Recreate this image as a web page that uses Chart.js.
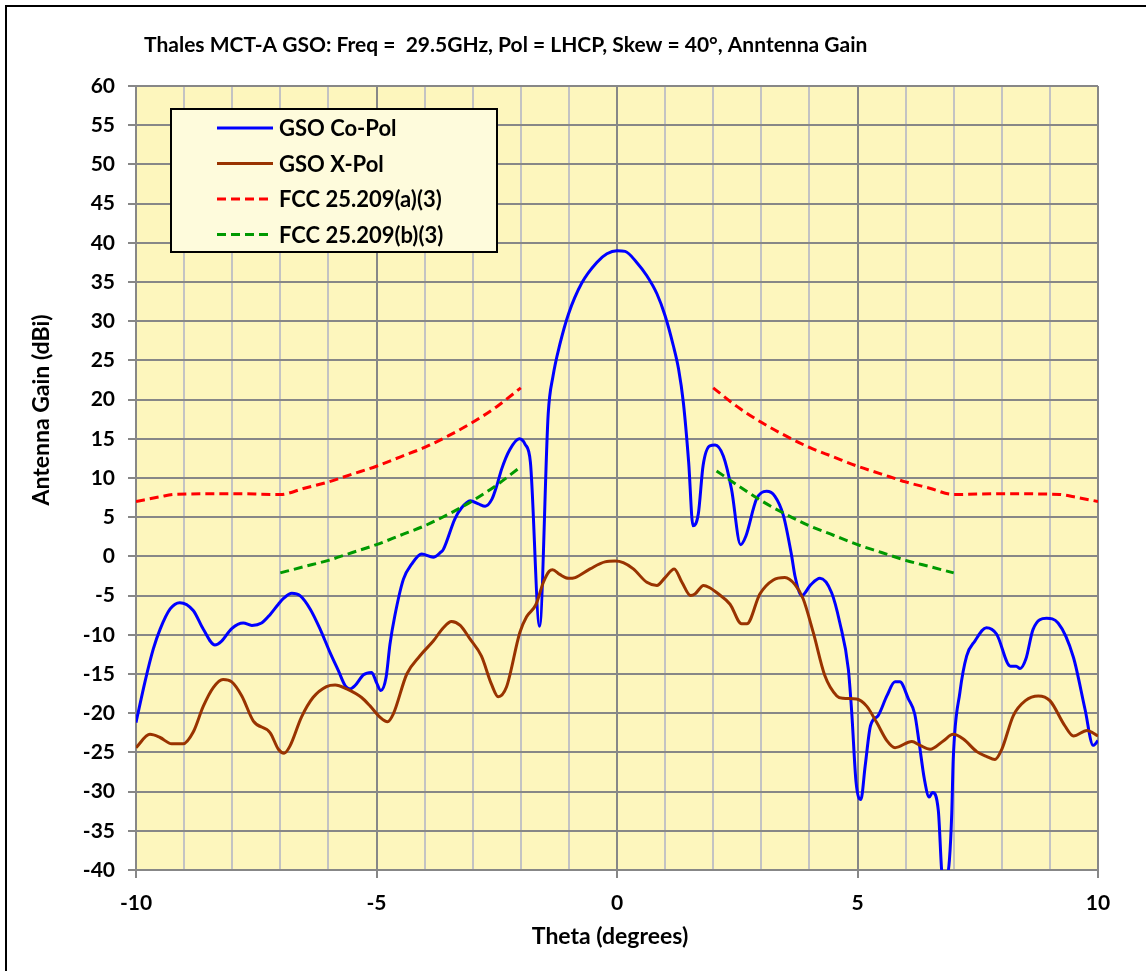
<!DOCTYPE html>
<html>
<head>
<meta charset="utf-8">
<script src="https://cdn.jsdelivr.net/npm/chart.js@4.4.0/dist/chart.umd.min.js"></script>
<style>
  body { margin: 0; background: #fff; }
  #wrap { width: 1146px; height: 971px; position: relative; }
</style>
</head>
<body>
<div id="wrap"><canvas id="myChart" width="1146" height="971"></canvas></div>
<script>
// values
const coPolTheta = [-10.00, -9.81, -9.64, -9.50, -9.29, -9.09, -8.81, -8.60, -8.36, -8.22, -8.01, -7.77, -7.59, -7.39, -7.21, -7.04, -6.94, -6.76, -6.59, -6.38,
  -6.17, -5.97, -5.79, -5.65, -5.55, -5.45, -5.27, -5.10, -5.00, -4.91, -4.80, -4.72, -4.62, -4.44, -4.27, -4.06, -3.82, -3.67, -3.61, -3.37,
  -3.23, -3.05, -2.88, -2.74, -2.60, -2.50, -2.40, -2.23, -2.03, -1.91, -1.80, -1.61, -1.43, -1.33, -1.19, -1.01, -0.73, -0.42, -0.21, 0.00,
  0.17, 0.41, 0.62, 0.83, 1.00, 1.17, 1.28, 1.38, 1.49, 1.58, 1.69, 1.79, 1.93, 2.04, 2.21, 2.38, 2.57, 2.68, 2.90, 3.11,
  3.28, 3.46, 3.63, 3.70, 3.84, 4.03, 4.22, 4.46, 4.63, 4.81, 4.88, 4.97, 5.07, 5.16, 5.27, 5.43, 5.61, 5.78, 5.88, 6.06,
  6.19, 6.28, 6.39, 6.49, 6.56, 6.68, 6.77, 6.85, 6.91, 6.96, 6.99, 7.13, 7.27, 7.44, 7.68, 7.89, 8.18, 8.30, 8.38, 8.50,
  8.65, 8.93, 9.17, 9.49, 9.73, 9.90, 10.00];
const coPolGain = [-21.2, -15.9, -11.8, -9.3, -6.7, -5.9, -6.9, -9.3, -11.3, -10.8, -9.2, -8.5, -8.8, -8.5, -7.4, -6.1, -5.4, -4.7, -5.0, -6.7,
  -9.3, -12.2, -14.6, -16.5, -16.9, -16.5, -15.1, -14.8, -16.1, -17.1, -15.4, -11.2, -7.6, -2.9, -1.0, 0.3, -0.1, 0.5, 0.9, 4.8,
  6.2, 7.1, 6.7, 6.4, 7.3, 9.0, 11.1, 13.6, 15.0, 14.3, 12.0, -8.9, 18.2, 23.0, 27.0, 30.9, 34.9, 37.5, 38.6, 39.0,
  38.9, 37.5, 35.8, 33.5, 30.7, 26.9, 23.9, 19.6, 12.0, 3.9, 5.4, 11.6, 14.1, 14.2, 12.8, 8.6, 1.5, 2.6, 7.3, 8.3,
  7.7, 5.2, 0.1, -2.5, -5.0, -3.6, -2.8, -4.6, -8.4, -14.4, -19.9, -28.8, -31.0, -26.7, -21.6, -20.3, -17.8, -16.0, -16.0, -18.2,
  -20.1, -23.7, -28.4, -30.7, -30.1, -32.4, -41.0, -41.0, -38.8, -32.7, -25.9, -17.3, -12.7, -10.8, -9.1, -9.9, -14.0, -14.0, -14.3, -13.1,
  -9.3, -7.9, -8.5, -12.9, -19.5, -24.1, -23.5];

const xPolTheta = [-10.00, -9.71, -9.50, -9.26, -9.02, -8.81, -8.60, -8.39, -8.19, -8.01, -7.80, -7.56, -7.21, -7.04, -6.92, -6.80, -6.56, -6.32, -6.04, -5.86,
  -5.62, -5.31, -5.13, -4.93, -4.77, -4.65, -4.37, -4.10, -3.82, -3.61, -3.44, -3.26, -3.06, -2.82, -2.61, -2.47, -2.30, -2.02, -1.88, -1.69,
  -1.53, -1.41, -1.34, -1.19, -1.01, -0.87, -0.56, -0.25, -0.04, 0.13, 0.34, 0.62, 0.83, 1.00, 1.19, 1.35, 1.53, 1.62, 1.80, 1.93,
  2.07, 2.35, 2.59, 2.70, 2.97, 3.25, 3.49, 3.70, 3.87, 4.08, 4.32, 4.57, 4.70, 4.98, 5.19, 5.40, 5.61, 5.78, 6.13, 6.30,
  6.51, 6.79, 6.99, 7.20, 7.48, 7.68, 7.86, 8.00, 8.24, 8.49, 8.76, 9.00, 9.31, 9.49, 9.77, 10.00];
const xPolGain = [-24.4, -22.7, -23.1, -23.9, -23.9, -22.4, -19.1, -16.7, -15.7, -16.0, -17.8, -21.0, -22.5, -24.6, -25.1, -24.2, -20.5, -18.0, -16.6, -16.4,
  -16.9, -18.0, -19.1, -20.5, -21.1, -20.1, -15.0, -12.7, -10.8, -9.1, -8.3, -8.8, -10.5, -12.7, -16.3, -17.9, -16.7, -9.7, -7.7, -6.2,
  -3.3, -1.9, -1.7, -2.3, -2.8, -2.7, -1.6, -0.7, -0.6, -0.8, -1.6, -3.3, -3.7, -2.7, -1.6, -3.3, -5.0, -4.8, -3.7, -4.0,
  -4.6, -6.1, -8.6, -8.6, -4.8, -3.0, -2.7, -3.6, -5.4, -9.7, -15.2, -17.8, -18.1, -18.2, -19.1, -21.2, -23.5, -24.4, -23.6, -24.1,
  -24.6, -23.5, -22.7, -23.3, -24.9, -25.5, -25.9, -24.6, -20.3, -18.4, -17.8, -18.4, -21.6, -22.9, -22.2, -22.9];

// mask lines, gap between -2 and 2
const fccATheta = [-10, -9.5, -9.2, -8, -7, -6.5, -6, -5.5, -5, -4.5, -4, -3.5, -3, -2.5, -2,
  0, 2, 2.5, 3, 3.5, 4, 4.5, 5, 5.5, 6, 6.5, 7, 8, 9.2, 9.5, 10];
const fccAGain = [7.0, 7.6, 7.9, 8.0, 7.9, 8.7, 9.5, 10.5, 11.5, 12.7, 13.9, 15.4, 17.1, 19.1, 21.5,
  null, 21.5, 19.1, 17.1, 15.4, 13.9, 12.7, 11.5, 10.5, 9.5, 8.7, 7.9, 8.0, 7.9, 7.6, 7.0];
const fccBTheta = [-7, -6.5, -6, -5.5, -5, -4.5, -4, -3.5, -3, -2.5, -2.05,
  0, 2.07, 2.5, 3, 3.5, 4, 4.5, 5, 5.5, 6, 6.5, 7];
const fccBGain = [-2.1, -1.3, -0.5, 0.5, 1.5, 2.7, 3.9, 5.4, 7.1, 9.1, 11.2,
  null, 10.9, 9.1, 7.1, 5.4, 3.9, 2.7, 1.5, 0.5, -0.5, -1.3, -2.1];

const xTicks = [-10, -5, 0, 5, 10];

const toPoints = (xs, ys) => xs.map((x, i) => ({ x: x, y: ys[i] }));

const FONT = "Lato, 'Open Sans', sans-serif";
const gridDark = '#878787';
const gridLight = '#c3c3c3';

// background, frame, titles and the boxed legend
const decor = {
  id: 'decor',
  beforeDraw(chart) {
    const { ctx, chartArea } = chart;
    ctx.save();
    ctx.fillStyle = '#fdf6bd';
    ctx.fillRect(chartArea.left, chartArea.top, chartArea.right - chartArea.left, chartArea.bottom - chartArea.top);
    ctx.restore();
  },
  afterDraw(chart) {
    const ctx = chart.ctx;
    ctx.save();
    // outer frame
    ctx.fillStyle = '#000';
    ctx.fillRect(5, 5, 2, 966);
    ctx.fillRect(5, 5, 1141, 2);

    ctx.fillStyle = '#000';
    ctx.font = 'bold 21px ' + FONT;
    ctx.textBaseline = 'middle';
    ctx.textAlign = 'left';
    ctx.fillText('Thales MCT-A GSO: Freq =  29.5GHz, Pol = LHCP, Skew = 40°, Anntenna Gain', 144, 45);

    ctx.font = 'bold 23px ' + FONT;
    ctx.textAlign = 'center';
    ctx.fillText('Theta (degrees)', 610, 937);

    ctx.save();
    ctx.translate(42, 410);
    ctx.rotate(-Math.PI / 2);
    ctx.fillText('Antenna Gain (dBi)', 0, 0);
    ctx.restore();

    // legend
    ctx.fillStyle = '#fefbdc';
    ctx.fillRect(171, 109, 326, 143);
    ctx.strokeStyle = '#000';
    ctx.lineWidth = 2;
    ctx.strokeRect(171, 109, 326, 143);
    ctx.font = 'bold 22px ' + FONT;
    ctx.textAlign = 'left';
    chart.data.datasets.forEach((ds, i) => {
      const y = 128 + i * 35.5;
      ctx.beginPath();
      ctx.strokeStyle = ds.borderColor;
      ctx.lineWidth = 3;
      ctx.setLineDash(ds.borderDash || []);
      ctx.moveTo(217, y);
      ctx.lineTo(273, y);
      ctx.stroke();
      ctx.setLineDash([]);
      ctx.fillStyle = '#000';
      ctx.fillText(ds.label, 279, y + 1);
    });
    ctx.restore();
  }
};

const config = {
  type: 'line',
  data: {
    datasets: [
      { label: 'GSO Co-Pol', data: toPoints(coPolTheta, coPolGain), borderColor: '#0000ff', borderWidth: 3, order: 4 },
      { label: 'GSO X-Pol', data: toPoints(xPolTheta, xPolGain), borderColor: '#993300', borderWidth: 3, order: 3 },
      { label: 'FCC 25.209(a)(3)', data: toPoints(fccATheta, fccAGain), borderColor: '#ff0000', borderWidth: 3, borderDash: [9, 5], order: 2 },
      { label: 'FCC 25.209(b)(3)', data: toPoints(fccBTheta, fccBGain), borderColor: '#009900', borderWidth: 3, borderDash: [9, 5], order: 1 }
    ]
  },
  options: {
    responsive: false,
    animation: false,
    spanGaps: false,
    elements: {
      point: { radius: 0 },
      line: { cubicInterpolationMode: 'monotone', borderCapStyle: 'butt' }
    },
    layout: { padding: { left: 20, right: 48, top: 86, bottom: 0 } },
    plugins: { legend: { display: false }, title: { display: false }, tooltip: { enabled: false } },
    scales: {
      x: {
        type: 'linear',
        min: -10, max: 10,
        afterFit: (scale) => { scale.height = 101; },
        afterBuildTicks: (scale) => {
          const t = [];
          for (let v = -10; v <= 10; v++) t.push({ value: v });
          scale.ticks = t;
        },
        ticks: {
          autoSkip: false, maxRotation: 0, padding: 13,
          color: '#000',
          font: { family: FONT, size: 21, weight: 'bold' },
          callback: (v) => xTicks.includes(v) ? String(v) : ''
        },
        grid: {
          lineWidth: 2,
          tickLength: 8,
          color: (c) => (c.tick && c.tick.value % 5 === 0) ? gridDark : gridLight,
          tickColor: (c) => (c.tick && c.tick.value % 5 === 0) ? gridDark : 'rgba(0,0,0,0)'
        },
        border: { color: gridDark, width: 2 }
      },
      y: {
        min: -40, max: 60,
        afterFit: (scale) => { scale.width = 116; },
        ticks: {
          stepSize: 5, padding: 13,
          color: '#000',
          font: { family: FONT, size: 21, weight: 'bold' }
        },
        grid: { lineWidth: 2, tickLength: 8, color: gridDark, tickColor: gridDark },
        border: { color: gridDark, width: 2 }
      }
    }
  },
  plugins: [decor]
};

const myChart = new Chart(document.getElementById('myChart'), config);
</script>
</body>
</html>
